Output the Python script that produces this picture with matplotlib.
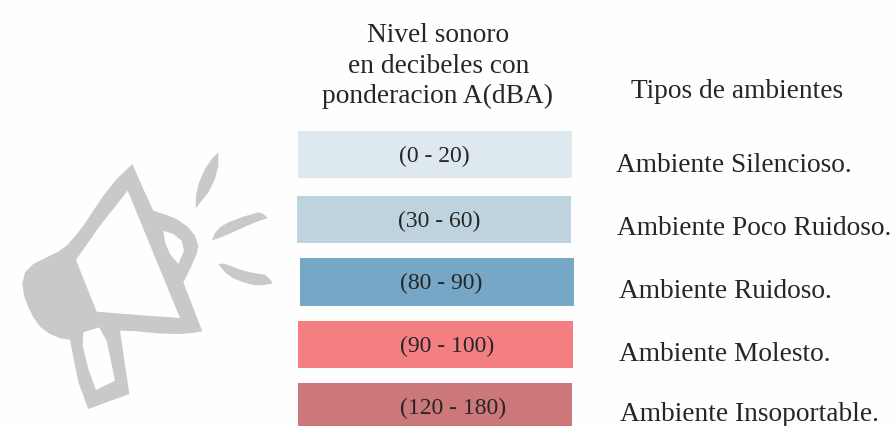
import matplotlib
matplotlib.use("Agg")
import matplotlib.pyplot as plt
from matplotlib.path import Path
from matplotlib.patches import PathPatch

ranges = ["(0 - 20)", "(30 - 60)", "(80 - 90)", "(90 - 100)", "(120 - 180)"]
ambientes = ["Ambiente Silencioso.", "Ambiente Poco Ruidoso.", "Ambiente Ruidoso.",
             "Ambiente Molesto.", "Ambiente Insoportable."]
header = ["Nivel sonoro", "en decibeles con", "ponderacion A(dBA)"]
tipos = "Tipos de ambientes"
colors = ["#dde8ef", "#bed3dd", "#76a7c6", "#f47f83", "#cc787b"]
lefts = [297.5, 297, 299.5, 298, 297.5]
widths = [274, 274, 274.5, 274.5, 274.5]
centers = [155.5, 220, 282.75, 345.25, 408]
heights = [47, 47, 47.5, 47.5, 48]
range_x = [399, 398.5, 400.5, 400, 400]
range_y = [162, 227, 289, 352, 414]
amb_x = [616, 617, 619, 619, 620]
amb_y = [172, 235, 298, 361, 421]
head_x = [438.5, 438.5, 438]
head_y = [42, 73, 103]

outer = [(397,105),(430,180),(460,245),(500,258),(530,270),(565,295),(585,320),(595,350),(590,375),(570,420),(550,460),
         (607,607),(575,612),(540,615),(490,614),(440,610),(400,606),(360,605),(388,795),(265,840),(235,760),(222,695),(210,632),(180,628),(150,615),
         (122,595),(100,565),(85,535),(72,500),(67,465),(75,430),(100,405),(140,385),(175,368),(200,350),(225,322),(250,290),(310,200),(350,150)]
hole_main = [(383,185),(540,567),(415,558),(290,548),(228,393),(300,290)]
hole_small = [(490,305),(520,315),(545,335),(552,365),(535,405),(510,375),(495,340)]
hole_handle = [(250,610),(297,595),(320,635),(345,755),(288,783),(265,720),(248,650)]
leaves = [
    [(655,70),(655,110),(645,150),(625,190),(587,238),(588,200),(597,160),(615,120),(635,90)],
    [(635,335),(645,312),(660,295),(685,280),(730,263),(775,250),(790,255),(803,267),(760,282),(720,300),(675,320)],
    [(655,405),(672,404),(690,410),(720,422),(750,430),(795,437),(808,448),(818,463),(790,469),(760,468),(730,460),(700,448),(675,430)],
]

def to_px(pts):
    return [(x / 3, y / 3 + 130) for x, y in pts]

def ring(pts, reverse=False):
    p = to_px(pts)
    if reverse:
        p = p[::-1]
    return p + [p[0]], [Path.MOVETO] + [Path.LINETO] * (len(p) - 1) + [Path.CLOSEPOLY]

fig = plt.figure(figsize=(8.94, 4.27), dpi=100, facecolor="#fefefe")
ax = fig.add_axes([0, 0, 1, 1])
ax.set_xlim(0, 894)
ax.set_ylim(427, 0)
ax.axis("off")

verts, codes = ring(outer)
for r in (hole_main, hole_small, hole_handle):
    v, c = ring(r, reverse=True)
    verts = verts + v
    codes = codes + c
ax.add_patch(PathPatch(Path(verts, codes), fc="#c9c9c9", ec="none"))
for leaf in leaves:
    v, c = ring(leaf)
    ax.add_patch(PathPatch(Path(v, c), fc="#c9c9c9", ec="none"))

ax.barh(centers, widths, height=heights, left=lefts, color=colors, linewidth=0)

serif = "Liberation Serif"
ink = "#262626"
for x, y, t in zip(range_x, range_y, ranges):
    ax.text(x, y, t, family=serif, fontsize=17, color=ink, ha="left", va="baseline")
for x, y, t in zip(amb_x, amb_y, ambientes):
    ax.text(x, y, t, family=serif, fontsize=19.7, color=ink, ha="left", va="baseline")
for x, y, t in zip(head_x, head_y, header):
    ax.text(x, y, t, family=serif, fontsize=19.7, color=ink, ha="center", va="baseline")
ax.text(631, 98, tipos, family=serif, fontsize=19.7, color=ink, ha="left", va="baseline")

fig.savefig("out.png", dpi=100, facecolor=fig.get_facecolor())
